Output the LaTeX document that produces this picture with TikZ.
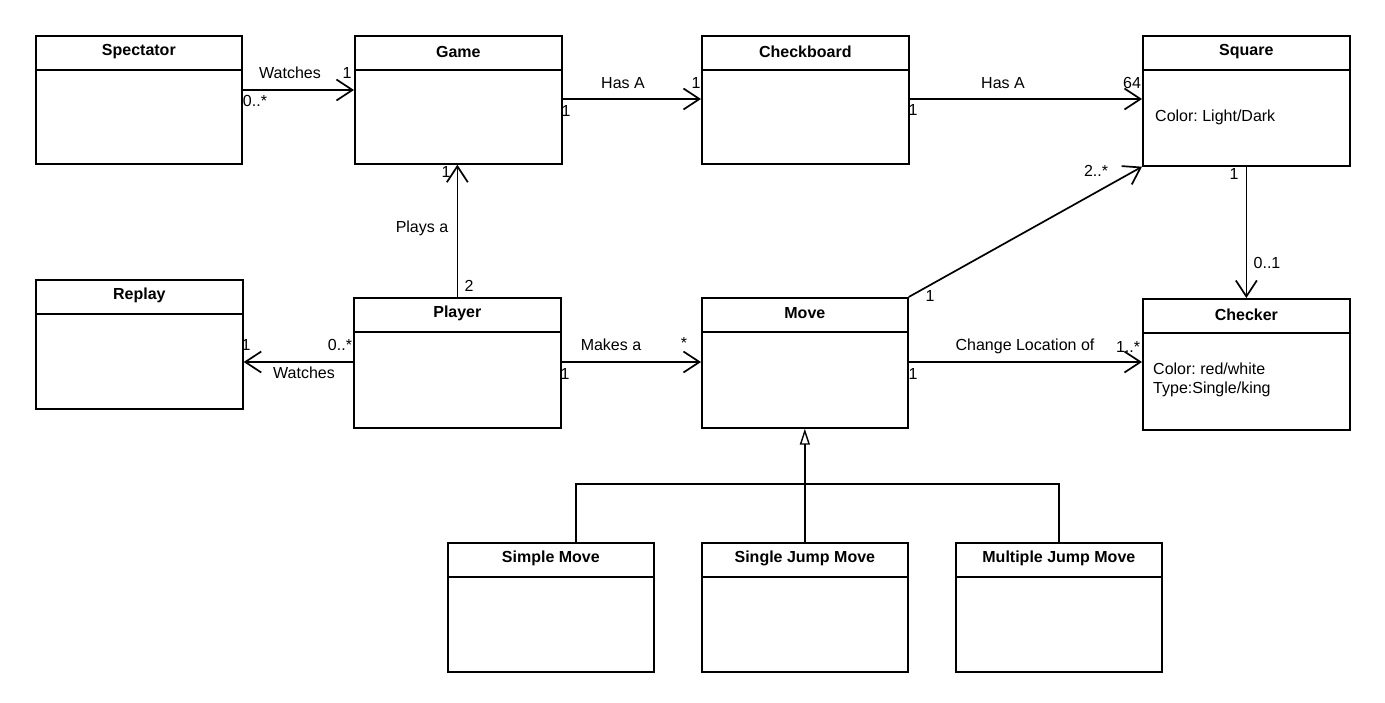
\documentclass[tikz,border=0pt]{standalone}
\usepackage{fontspec}
\setmainfont{Liberation Sans}
\frenchspacing
\usetikzlibrary{arrows.meta,calc}
\tikzset{
  cls/.style={draw, line width=1.7pt, inner sep=0pt, fill=white},
  ttl/.style={font=\fontsize{16}{19}\selectfont\bfseries, inner sep=0pt},
  lbl/.style={font=\fontsize{16}{19}\selectfont, inner sep=0pt},
  attr/.style={font=\fontsize{16}{19}\selectfont, inner sep=0pt, anchor=west},
  assoc/.style={line width=1.7pt, -{Straight Barb[length=16pt,width=21pt,line width=1.7pt]}},
  genl/.style={line width=1.7pt},
  genarrow/.style={line width=1.7pt, -{Triangle[open,length=16pt,width=10pt,line width=1.4pt]}},
}
\newcommand\umlbox[6]{%
  \node[cls, minimum width=#4pt, minimum height=#5pt, anchor=north west] (#1) at (#2,#3) {};
  \draw[line width=1.7pt] ([yshift=-35pt]#1.north west) -- ([yshift=-35pt]#1.north east);
  \node[ttl] (#1-t) at ([yshift=-16.5pt]#1.north) {#6};
}
\begin{document}
\begin{tikzpicture}[x=1pt,y=-1pt]
\useasboundingbox (0,0) rectangle (1385,702);
\fill[white] (0,0) rectangle (1385,702);

% classes
\umlbox{spec}{35}{35}{206}{128}{Spectator}
\umlbox{game}{354}{35}{207}{128}{Game}
\umlbox{board}{701}{35}{207}{128}{Checkboard}
\umlbox{square}{1142}{35}{207}{130}{Square}
\umlbox{replay}{35}{279}{207}{129}{Replay}
\umlbox{player}{353}{297}{207}{130}{Player}
\umlbox{move}{701}{297}{206}{130}{Move}
\umlbox{checker}{1142}{298}{207}{131}{Checker}
\umlbox{simple}{447}{542}{206}{129}{Simple Move}
\umlbox{single}{701}{542}{206}{129}{Single Jump Move}
\umlbox{multi}{955}{542}{206}{129}{Multiple Jump Move}

% attributes
\node[attr] (sqa) at (1155,117) {Color: Light/Dark};
\node[attr] (cha) at (1153,369) {Color: red/white};
\node[attr] (chb) at (1153,389) {Type:Single/king};

% associations
\draw[assoc] ([yshift=-55pt]spec.north east) -- ([yshift=-55pt]game.north west);
\draw[assoc] ([yshift=-64pt]game.north east) -- ([yshift=-64pt]board.north west);
\draw[assoc] ([yshift=-64pt]board.north east) -- ([yshift=-64pt]square.north west);
\draw[assoc] (player.north) -- (player.north |- game.south);
\draw[assoc] ([yshift=-65pt]player.north west) coordinate (pw) -- (pw -| replay.east);
\draw[assoc] ([yshift=-65pt]player.north east) coordinate (pe) -- (pe -| move.west);
\draw[assoc] ([yshift=-65pt]move.north east) coordinate (me) -- (me -| checker.west);
\draw[assoc] (move.north east) -- (square.south west);
\draw[assoc] (square.south) -- (square.south |- checker.north);

% generalization
\coordinate (bar) at (804,484);
\draw[genarrow] (single.north) -- (move.south);
\draw[genl] ([xshift=25pt]simple.north) |- (bar);
\draw[genl] (bar) -| (multi.north);

% labels
\node[lbl] (l1) at (290,73) {Watches};
\node[lbl] (l2) at (347,73) {1};
\node[lbl] (l3) at (255,101) {0..*};
\node[lbl] (l4) at (623,83) {Has A};
\node[lbl] (l5) at (696,83) {1};
\node[lbl] (l6) at (566,111) {1};
\node[lbl] (l7) at (1003,83) {Has A};
\node[lbl] (l8) at (1132,83) {64};
\node[lbl] (l9) at (913,110) {1};
\node[lbl] (l10) at (1096,171) {2..*};
\node[lbl] (l11) at (1234,174) {1};
\node[lbl] (l12) at (1267,263) {0..1};
\node[lbl] (l13) at (930,296) {1};
\node[lbl] (l14) at (1025,346) {Change Location of};
\node[lbl] (l15) at (1128,347) {1..*};
\node[lbl] (l16) at (913,374) {1};
\node[lbl] (l17) at (422,228) {Plays a};
\node[lbl] (l18) at (446,172) {1};
\node[lbl] (l19) at (469,286) {2};
\node[lbl] (l20) at (246,345) {1};
\node[lbl] (l21) at (340,345) {0..*};
\node[lbl] (l22) at (304,373) {Watches};
\node[lbl] (l23) at (611,345) {Makes a};
\node[lbl] (l24) at (684,343) {*};
\node[lbl] (l25) at (565,374) {1};
\end{tikzpicture}
\end{document}
